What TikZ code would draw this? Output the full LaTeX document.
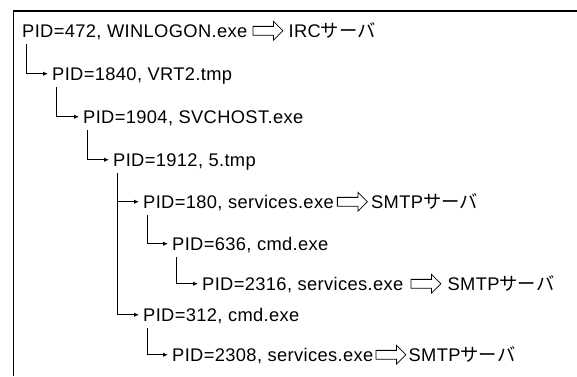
\documentclass[tikz,border=0pt]{standalone}
\usepackage{fontspec}
\setmainfont{Liberation Sans}[LetterSpace=2]
\newfontfamily\jpfont{Noto Sans CJK JP}
\usetikzlibrary{shapes.arrows,arrows.meta}
\tikzset{
  proc/.style={anchor=base west, inner sep=0pt, text height=12.5pt, text depth=0pt,
    font=\fontsize{18.3}{21}\selectfont},
  dest/.style={proc, anchor=west},
  link/.style={line width=1.2pt, -{Latex[length=5pt,width=4.5pt]}},
  sendarrow/.style={single arrow, draw, line width=0.8pt, minimum height=30pt,
    inner xsep=0pt, inner ysep=4pt, single arrow head extend=5pt, anchor=west},
}
\begin{document}
\begin{tikzpicture}[x=1pt,y=-1pt]
\useasboundingbox (0,0) rectangle (577,376);
% frame
\draw[line width=1.5pt] (577,11) -- (13.5,11) -- (13.5,376);

% process tree
\node[proc] (p472)  at (22,37)  {PID=472, WINLOGON.exe};
\node[proc] (p1840) at (52,80)  {PID=1840, VRT2.tmp};
\node[proc] (p1904) at (83,123) {PID=1904, SVCHOST.exe};
\node[proc] (p1912) at (113,166) {PID=1912, 5.tmp};
\node[proc] (p180)  at (143,208) {PID=180, services.exe};
\node[proc] (p636)  at (172,250) {PID=636, cmd.exe};
\node[proc] (p2316) at (202,290) {PID=2316, services.exe};
\node[proc] (p312)  at (143,321) {PID=312, cmd.exe};
\node[proc] (p2308) at (172,361) {PID=2308, services.exe};

% parent -> child links
\foreach \p/\c in {p472/p1840, p1840/p1904, p1904/p1912, p1912/p180,
                   p1912/p312, p180/p636, p636/p2316, p312/p2308}
  \draw[link] ([shift={(4.5pt,-7pt)}]\p.south west) |- ([xshift=-4pt]\c.west);

% outgoing connections
\node[sendarrow] (a472) at ([xshift=5pt]p472.east) {};
\node[dest] (irc) at ([xshift=5pt]a472.east) {IRC{\jpfont サーバ}};
\node[sendarrow] (a180) at ([xshift=3pt]p180.east) {};
\node[dest] (smtp1) at ([xshift=3pt]a180.east) {SMTP{\jpfont サーバ}};
\node[sendarrow] (a2316) at ([xshift=7pt]p2316.east) {};
\node[dest] (smtp2) at ([xshift=6pt]a2316.east) {SMTP{\jpfont サーバ}};
\node[sendarrow] (a2308) at ([xshift=2pt]p2308.east) {};
\node[dest] (smtp3) at ([xshift=2pt]a2308.east) {SMTP{\jpfont サーバ}};
\end{tikzpicture}
\end{document}
